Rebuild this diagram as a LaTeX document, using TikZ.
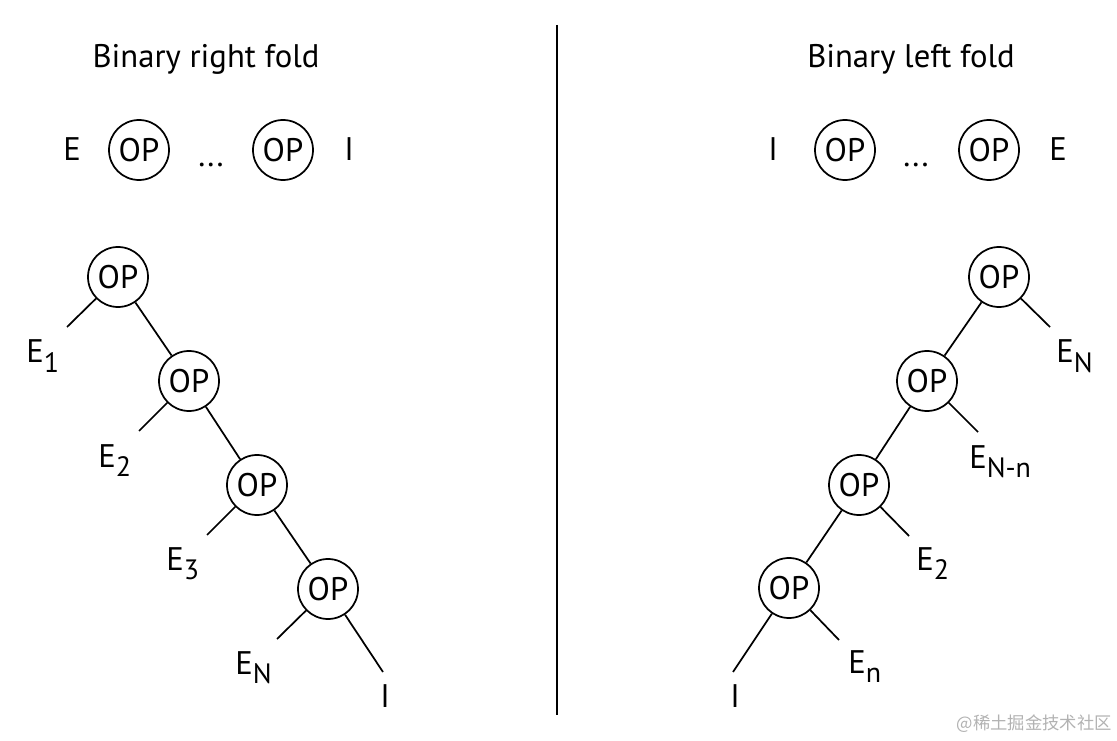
\documentclass[tikz,border=0pt]{standalone}
\usepackage{fontspec}
\setmainfont{PT Sans}
\newfontfamily\cjkfont{Noto Sans CJK SC}
\newcommand{\lbsub}[1]{\raisebox{-0.3em}{\fontsize{21pt}{21pt}\selectfont #1}}
\begin{document}
\begin{tikzpicture}[x=0.75pt,y=-0.75pt,
  every node/.style={font=\fontsize{24.5pt}{26pt}\selectfont, inner sep=0pt},
  opnode/.style={draw, circle, line width=1.3pt, minimum size=45pt},
  edge/.style={line width=1.3pt},
  lbl/.style={anchor=base west},
  ttl/.style={anchor=base}]
\useasboundingbox (0,0) rectangle (1117,741);
% divider
\draw[line width=1.3pt] (557,25) coordinate (dtop) -- (557,715) coordinate (dbot);
% titles
\node[ttl] (tl) at (206,68) {Binary right fold};
\node[ttl] (tr) at (911,68) {Binary left fold};
% top rows
\node[lbl] (rE) at (63,161) {E};
\node[opnode] (rop1) at (139,150) {OP};
\node[ttl] (rdots) at (211,167) {...};
\node[opnode] (rop2) at (283,150) {OP};
\node[lbl] (rI) at (344,161) {I};
\node[lbl] (lI) at (768,161) {I};
\node[opnode] (lop1) at (845,150) {OP};
\node[ttl] (ldots) at (916,167) {...};
\node[opnode] (lop2) at (989,150) {OP};
\node[lbl] (lE) at (1049,161) {E};
% left tree
\node[opnode] (a1) at (118,277) {OP};
\node[opnode] (a2) at (189,381) {OP};
\node[opnode] (a3) at (257,485) {OP};
\node[opnode] (a4) at (328,589) {OP};
\coordinate (a1e) at (67,327);
\coordinate (a2e) at (139,431);
\coordinate (a3e) at (207,535);
\coordinate (a4e) at (277,639);
\coordinate (a4i) at (383,672);
\draw[edge] (a1) -- (a2);
\draw[edge] (a2) -- (a3);
\draw[edge] (a3) -- (a4);
\draw[edge] (a1) -- (a1e);
\draw[edge] (a2) -- (a2e);
\draw[edge] (a3) -- (a3e);
\draw[edge] (a4) -- (a4e);
\draw[edge] (a4) -- (a4i);
\node[lbl] (aE1) at (26,363) {E\lbsub{1}};
\node[lbl] (aE2) at (98,467) {E\lbsub{2}};
\node[lbl] (aE3) at (166,570) {E\lbsub{3}};
\node[lbl] (aEN) at (235,674) {E\lbsub{N}};
\node[lbl] (aI) at (380,707) {I};
% right tree
\node[opnode] (b1) at (999,277) {OP};
\node[opnode] (b2) at (927,381) {OP};
\node[opnode] (b3) at (859,485) {OP};
\node[opnode] (b4) at (789,588) {OP};
\coordinate (b1e) at (1050,327);
\coordinate (b2e) at (978,432);
\coordinate (b3e) at (909,536);
\coordinate (b4e) at (839,640);
\coordinate (b4i) at (733,672);
\draw[edge] (b1) -- (b2);
\draw[edge] (b2) -- (b3);
\draw[edge] (b3) -- (b4);
\draw[edge] (b1) -- (b1e);
\draw[edge] (b2) -- (b2e);
\draw[edge] (b3) -- (b3e);
\draw[edge] (b4) -- (b4e);
\draw[edge] (b4) -- (b4i);
\node[lbl] (bEN) at (1056,363) {E\lbsub{N}};
\node[lbl] (bENn) at (969,468) {E\lbsub{N-n}};
\node[lbl] (bE2) at (916,570) {E\lbsub{2}};
\node[lbl] (bEn) at (848,673) {E\lbsub{n}};
\node[lbl] (bI) at (730,707) {I};
% watermark
\node[anchor=base east, text=black!30, font=\cjkfont\fontsize{13pt}{13pt}\selectfont] (wm) at (1112,729) {@稀土掘金技术社区};
\end{tikzpicture}
\end{document}
